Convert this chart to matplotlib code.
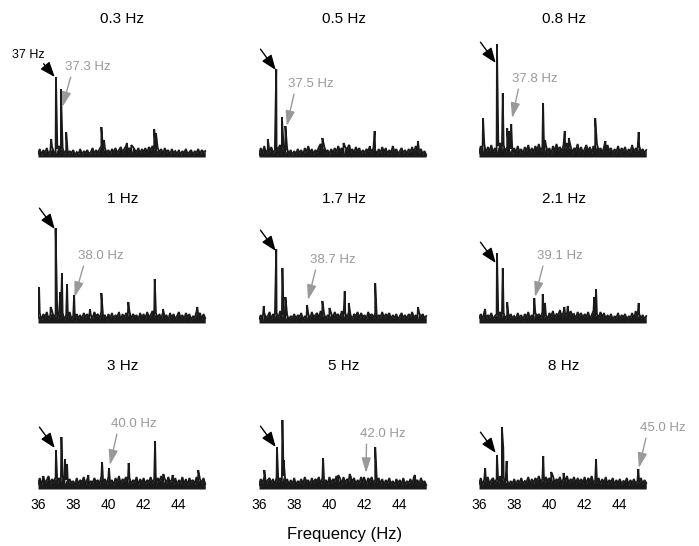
import numpy as np
import matplotlib
matplotlib.use("Agg")
import matplotlib.pyplot as plt

plt.rcParams["font.family"] = ["Liberation Sans", "DejaVu Sans"]

# drive frequency of each panel and the sideband it produces
drive_labels = ["0.3 Hz", "0.5 Hz", "0.8 Hz", "1 Hz", "1.7 Hz", "2.1 Hz", "3 Hz", "5 Hz", "8 Hz"]
sideband_freqs = [37.3, 37.5, 37.8, 38.0, 38.7, 39.1, 40.0, 42.0, 45.0]

# noise floor sampled every 0.1 Hz from 36.0 to 45.5 (arbitrary units)
floor_grid = np.round(np.arange(36.0, 45.55, 0.1), 2)
floors = [
    [4, 9, 3, 8, 5, 10, 4, 7, 11, 6, 5, 9, 12, 6, 10, 4, 8, 3, 7, 5,
     8, 3, 6, 4, 9, 3, 7, 5, 8, 4, 6, 10, 4, 8, 5, 9, 12, 7, 10, 5,
     8, 4, 9, 6, 10, 5, 8, 11, 6, 9, 12, 7, 10, 5, 11, 8, 6, 10, 4, 9,
     6, 10, 5, 11, 8, 12, 9, 5, 10, 6, 9, 4, 10, 6, 8, 3, 9, 5, 7, 4,
     8, 3, 7, 5, 9, 4, 6, 8, 3, 7, 5, 9, 4, 8, 6, 7],
    [3, 10, 5, 12, 4, 9, 6, 11, 5, 8, 4, 10, 13, 7, 11, 5, 9, 4, 8, 3,
     7, 4, 9, 5, 8, 3, 10, 6, 12, 5, 9, 4, 8, 6, 11, 14, 9, 12, 6, 8,
     4, 9, 5, 10, 6, 12, 7, 10, 4, 11, 8, 13, 6, 9, 5, 11, 7, 10, 4, 8,
     5, 9, 7, 12, 6, 10, 8, 4, 9, 5, 11, 6, 10, 4, 8, 5, 12, 6, 9, 4,
     7, 10, 5, 8, 4, 9, 6, 11, 5, 12, 8, 6, 9, 4, 7, 3],
    [5, 12, 6, 14, 4, 11, 7, 13, 5, 10, 6, 12, 15, 8, 13, 6, 11, 5, 9, 4,
     10, 5, 12, 6, 9, 4, 11, 7, 13, 5, 10, 6, 12, 8, 14, 7, 11, 5, 13, 6,
     10, 4, 12, 7, 14, 8, 11, 6, 13, 9, 15, 7, 12, 5, 10, 8, 14, 6, 11, 5,
     9, 13, 6, 11, 5, 12, 8, 14, 7, 10, 5, 11, 6, 13, 7, 10, 4, 9, 6, 12,
     5, 10, 7, 11, 4, 9, 6, 13, 5, 10, 7, 12, 6, 9, 5, 8],
    [6, 11, 4, 10, 7, 12, 5, 9, 13, 6, 10, 5, 12, 7, 11, 4, 9, 6, 12, 5,
     8, 4, 10, 6, 9, 5, 11, 7, 10, 4, 9, 6, 12, 8, 10, 5, 13, 7, 9, 4,
     10, 6, 11, 5, 9, 7, 12, 4, 10, 6, 11, 8, 12, 5, 10, 7, 9, 4, 11, 6,
     10, 5, 12, 7, 9, 13, 8, 11, 6, 10, 5, 12, 7, 9, 4, 11, 6, 10, 5, 8,
     12, 6, 9, 5, 11, 7, 10, 4, 8, 6, 12, 9, 11, 5, 10, 6],
    [5, 9, 4, 11, 6, 8, 12, 5, 10, 7, 11, 6, 13, 8, 10, 5, 9, 4, 8, 6,
     10, 5, 9, 7, 11, 4, 8, 6, 10, 5, 12, 7, 9, 11, 6, 13, 8, 10, 5, 9,
     7, 11, 6, 12, 8, 10, 5, 13, 7, 11, 6, 12, 9, 5, 10, 8, 12, 6, 11, 7,
     9, 5, 12, 8, 10, 6, 11, 4, 9, 7, 12, 6, 10, 8, 11, 5, 9, 6, 10, 4,
     8, 11, 6, 9, 5, 10, 7, 12, 6, 9, 5, 11, 7, 10, 6, 8],
    [6, 10, 5, 12, 4, 9, 7, 11, 5, 8, 10, 6, 12, 7, 11, 5, 9, 4, 10, 6,
     8, 5, 11, 6, 9, 4, 10, 7, 12, 5, 9, 6, 11, 8, 10, 6, 12, 7, 9, 5,
     11, 8, 13, 6, 10, 9, 14, 7, 12, 8, 11, 6, 13, 9, 10, 5, 12, 8, 11, 6,
     10, 7, 12, 5, 9, 13, 8, 10, 6, 12, 7, 11, 5, 9, 6, 10, 4, 8, 6, 11,
     5, 9, 7, 10, 4, 8, 6, 11, 5, 13, 7, 10, 6, 9, 5, 8],
    [6, 12, 5, 13, 7, 10, 14, 6, 11, 8, 13, 7, 12, 9, 14, 6, 10, 5, 11, 7,
     9, 5, 12, 6, 10, 8, 13, 6, 11, 5, 9, 7, 12, 8, 10, 6, 14, 8, 11, 6,
     13, 7, 10, 5, 12, 8, 14, 6, 11, 9, 13, 7, 12, 6, 10, 8, 13, 5, 11, 7,
     12, 6, 10, 8, 13, 7, 11, 5, 12, 9, 14, 6, 11, 7, 13, 8, 10, 6, 12, 5,
     10, 7, 13, 6, 11, 5, 12, 8, 10, 6, 13, 9, 11, 7, 12, 6],
    [5, 11, 7, 13, 6, 10, 12, 7, 11, 5, 13, 8, 12, 9, 14, 7, 11, 5, 10, 6,
     12, 5, 9, 7, 11, 6, 13, 8, 10, 5, 12, 7, 11, 9, 13, 6, 12, 8, 10, 6,
     13, 7, 11, 9, 14, 8, 12, 6, 13, 7, 11, 9, 14, 8, 12, 6, 10, 7, 13, 8,
     11, 6, 12, 9, 13, 7, 10, 8, 12, 6, 11, 5, 10, 7, 12, 6, 9, 5, 11, 7,
     10, 6, 12, 5, 9, 7, 11, 6, 13, 8, 10, 6, 12, 7, 9, 5],
    [6, 12, 5, 11, 8, 13, 6, 10, 12, 7, 11, 6, 14, 8, 12, 7, 10, 5, 9, 6,
     11, 5, 10, 7, 12, 6, 9, 8, 13, 6, 11, 7, 12, 9, 14, 8, 11, 6, 13, 9,
     12, 8, 14, 7, 11, 9, 13, 6, 12, 8, 14, 7, 11, 9, 13, 6, 12, 8, 11, 7,
     13, 6, 12, 9, 14, 7, 10, 8, 12, 6, 11, 7, 13, 6, 10, 8, 12, 5, 10, 7,
     11, 6, 9, 8, 12, 5, 10, 7, 11, 6, 9, 7, 12, 6, 10, 7],
]

# spectral lines on top of the floor (frequency in Hz, amplitude)
peak_freqs = [
    [36.75, 37.02, 37.3, 37.6, 39.6, 39.75, 41.05, 41.3, 42.6, 42.7],
    [36.5, 36.98, 37.3, 37.5, 39.6, 40.8, 41.15, 42.3, 42.57, 45.03],
    [36.23, 37.02, 37.35, 37.6, 37.7, 37.83, 39.64, 39.75, 40.87, 41.1, 42.6, 43.18, 45.07],
    [36.06, 36.72, 37.0, 37.27, 37.36, 37.65, 38.05, 38.95, 39.6, 41.13, 42.63, 43.1, 45.05],
    [36.27, 36.98, 37.33, 37.5, 38.73, 39.6, 40.0, 40.87, 41.1, 42.6, 45.03],
    [36.35, 37.02, 37.35, 37.6, 39.14, 39.62, 39.75, 40.85, 41.04, 42.55, 42.65, 45.07],
    [36.3, 37.02, 37.33, 37.53, 37.65, 38.86, 39.64, 40.03, 41.15, 42.65, 43.12, 43.65, 45.1],
    [36.3, 37.02, 37.33, 37.4, 39.64, 40.5, 41.15, 41.97, 42.6, 44.85],
    [36.35, 37.02, 37.3, 37.38, 37.57, 39.65, 40.1, 40.8, 42.65, 45.05],
]
peak_heights = [
    [19, 81, 69, 26, 31, 18, 15, 13, 29, 25],
    [19, 89, 41, 32, 20, 15, 12, 10, 27, 17],
    [40, 114, 65, 30, 27, 34, 55, 18, 27, 20, 40, 17, 26],
    [37, 17, 96, 32, 51, 40, 29, 15, 31, 22, 45, 15, 17],
    [18, 75, 56, 27, 19, 23, 16, 33, 21, 41, 17],
    [15, 71, 56, 22, 26, 30, 21, 17, 18, 27, 35, 21],
    [14, 40, 53, 31, 26, 15, 28, 22, 27, 49, 16, 15, 20],
    [20, 43, 70, 30, 32, 15, 16, 13, 43, 15],
    [22, 35, 63, 42, 29, 34, 18, 17, 31, 21],
]

# annotation layout: black arrow tip height, grey arrow tip height, grey label (x, y)
black_tip = [81, 88, 95, 95, 73, 61, 42, 43, 37]
grey_tip = [51, 32, 40, 27, 24, 27, 25, 17, 22]
grey_text = [(37.53, 91), (37.65, 74), (37.9, 79), (38.26, 68), (38.88, 64),
             (39.3, 68), (40.15, 66), (41.72, 56), (45.15, 62)]

xticks = [36, 38, 40, 42, 44]

W, H = 699, 546
col_left = [38, 259, 479]
row_base = [158, 324, 490]
title_y = [19, 199, 366]
ax_w, ax_h = 169, 120
GREY = "#999999"
LINE = "#1a1a1a"

fig = plt.figure(figsize=(W / 100, H / 100), dpi=100)

for k in range(9):
    r, c = divmod(k, 3)
    ax = fig.add_axes([col_left[c] / W, 1 - row_base[r] / H, ax_w / W, ax_h / H])
    xs = np.concatenate([floor_grid, peak_freqs[k]])
    ys = np.concatenate([floors[k], peak_heights[k]])
    order = np.argsort(xs, kind="stable")
    ax.fill_between(floor_grid, 1, floors[k], color=LINE, lw=0)
    ax.plot(xs[order], ys[order], color=LINE, lw=1.3, solid_joinstyle="miter")
    ax.set_xlim(36, 45.6)
    ax.set_ylim(0, 120)
    for s in ax.spines.values():
        s.set_visible(False)
    ax.set_yticks([])
    if r == 2:
        ax.set_xticks(xticks)
        ax.set_xticklabels([str(t) for t in xticks])
        ax.tick_params(axis="x", length=0, pad=6, labelsize=10)
    else:
        ax.set_xticks([])

    fig.text((col_left[c] + ax_w / 2) / W, 1 - title_y[r] / H, drive_labels[k],
             ha="center", va="center", fontsize=11)

    arrow_k = dict(arrowstyle="-|>,head_length=0.65,head_width=0.25",
                   mutation_scale=14, color="black", lw=1, shrinkA=0, shrinkB=0)
    if k == 0:
        ax.annotate("37 Hz", xy=(36.95, black_tip[k]), xytext=(34.52, 103),
                    ha="left", va="center", fontsize=9,
                    arrowprops=dict(arrow_k, relpos=(0.9, 0.0)),
                    annotation_clip=False)
    else:
        ax.annotate("", xy=(36.95, black_tip[k]), xytext=(-11, 15),
                    textcoords="offset points", arrowprops=arrow_k,
                    annotation_clip=False)

    arrow_g = dict(arrowstyle="-|>,head_length=0.65,head_width=0.2",
                   mutation_scale=14, color=GREY, lw=1, shrinkA=1, shrinkB=0,
                   relpos=(0.15, 0.0))
    ax.annotate(f"{sideband_freqs[k]:.1f} Hz",
                xy=(sideband_freqs[k] + 0.08, grey_tip[k]), xytext=grey_text[k],
                ha="left", va="center", fontsize=9.5, color=GREY,
                arrowprops=arrow_g, annotation_clip=False)

fig.text(344.7 / W, 1 - 535 / H, "Frequency (Hz)", ha="center", va="center", fontsize=12)

fig.savefig("out.png", dpi=100)
